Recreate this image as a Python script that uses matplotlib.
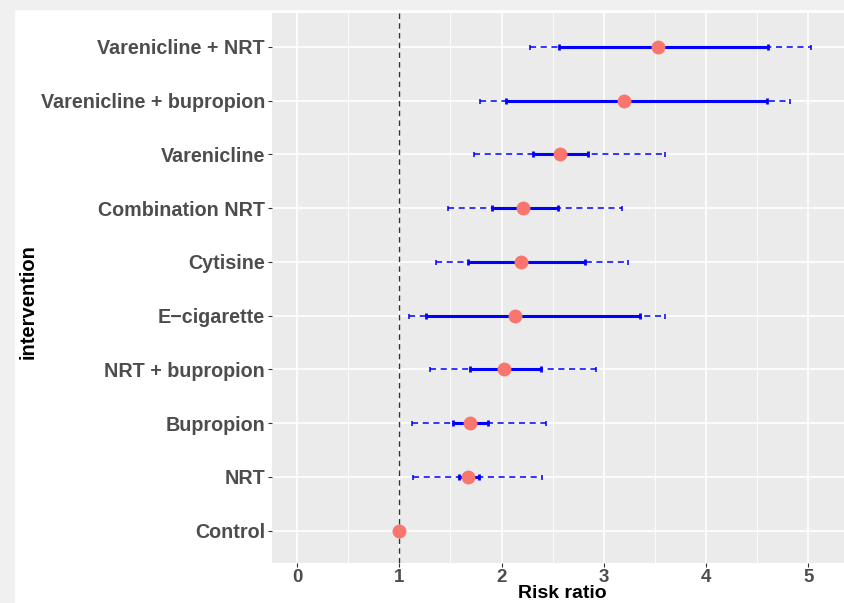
import numpy as np
import matplotlib
matplotlib.use("Agg")
import matplotlib.pyplot as plt
from matplotlib.patches import Rectangle

# data, bottom row first
interventions = ["Control", "NRT", "Bupropion", "NRT + bupropion", "E\u2212cigarette",
                 "Cytisine", "Combination NRT", "Varenicline",
                 "Varenicline + bupropion", "Varenicline + NRT"]
risk_ratio = [1.00, 1.67, 1.69, 2.02, 2.13, 2.19, 2.21, 2.57, 3.20, 3.53]
ci_low = [np.nan, 1.58, 1.53, 1.69, 1.26, 1.67, 1.91, 2.31, 2.04, 2.56]
ci_high = [np.nan, 1.78, 1.87, 2.39, 3.35, 2.82, 2.55, 2.85, 4.60, 4.61]
pi_low = [np.nan, 1.13, 1.12, 1.30, 1.10, 1.36, 1.48, 1.73, 1.79, 2.28]
pi_high = [np.nan, 2.40, 2.44, 2.92, 3.60, 3.24, 3.18, 3.60, 4.82, 5.03]
xticks = [0, 1, 2, 3, 4, 5]

plt.rcParams['font.family'] = ['Liberation Sans', 'DejaVu Sans']
plt.rcParams['font.weight'] = 'bold'

fig = plt.figure(figsize=(8.45, 6.03), dpi=100)
fig.patch.set_facecolor('white')
# light grey frame of the screenshot
fig.patches.append(Rectangle((0, 0), 14/845, 1, transform=fig.transFigure, color='#F0F0F0', zorder=-1))
fig.patches.append(Rectangle((0, 1 - 9/603), 1, 9/603, transform=fig.transFigure, color='#F0F0F0', zorder=-1))

ax = fig.add_axes([272/845, 1 - 563/603, 1 - 272/845, (563 - 13)/603])
ax.set_facecolor('#EBEBEB')
for s in ax.spines.values():
    s.set_visible(False)

y = np.arange(len(interventions))
rr = np.array(risk_ratio)
cl, ch = np.array(ci_low), np.array(ci_high)
pl, ph = np.array(pi_low), np.array(pi_high)
m = ~np.isnan(cl)

# outer interval, dashed
eb = ax.errorbar(rr[m], y[m], xerr=[rr[m] - pl[m], ph[m] - rr[m]], fmt='none',
                 ecolor='#0000FF', elinewidth=1.1, capsize=1.8, capthick=1.1, zorder=3)
eb[2][0].set_linestyle((0, (4, 3)))
# inner interval, solid
ax.errorbar(rr[m], y[m], xerr=[rr[m] - cl[m], ch[m] - rr[m]], fmt='none',
            ecolor='#0000FF', elinewidth=2.2, capsize=2.4, capthick=2.0, zorder=4)

ax.axvline(1, color='#333333', lw=1.0, ls=(0, (4, 3)), zorder=2)
ax.plot(rr, y, 'o', color='#F8766D', ms=10, mec='none', zorder=5)

ax.set_xlim(-0.245, 5.36)
ax.set_ylim(-0.6, 9.63)
ax.set_xticks(xticks)
ax.set_xticks(np.arange(0.5, 5.5, 1), minor=True)
ax.set_yticks(y)
ax.set_yticklabels(interventions)
ax.grid(True, which='major', color='white', lw=1.2, zorder=0)
ax.grid(True, which='minor', axis='x', color='white', lw=0.6, zorder=0)
ax.set_axisbelow(True)
ax.tick_params(which='major', length=3, width=0.8, color='#333333',
               labelsize=14.2, labelcolor='#4D4D4D', pad=2)
ax.tick_params(which='minor', length=0)
for lab in ax.get_xticklabels() + ax.get_yticklabels():
    lab.set_fontweight('bold')
ax.tick_params(axis='x', labelsize=13.5, pad=1.5)

ax.set_xlabel('Risk ratio', fontsize=14, fontweight='bold', color='black')
ax.set_ylabel('intervention', fontsize=14.5, fontweight='bold', color='black')
ax.yaxis.set_label_coords(28/845, 0.5, transform=fig.transFigure)
ax.xaxis.set_label_coords(562/845, 0.5/603, transform=fig.transFigure)
ax.xaxis.label.set_va('bottom')
ax.yaxis.label.set_va('center')

fig.savefig('out.png', dpi=100, facecolor=fig.get_facecolor())
